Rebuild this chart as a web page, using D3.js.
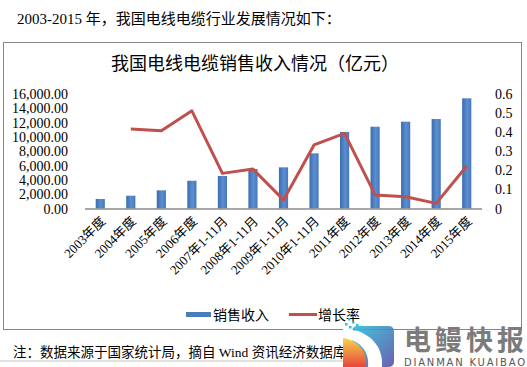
<!DOCTYPE html>
<html>
<head>
<meta charset="utf-8">
<script src="https://cdn.jsdelivr.net/npm/d3@7"></script>
<style>
  body { margin: 0; background: #fff; }
  svg text { font-family: "Liberation Serif", "Noto Sans CJK SC", serif; }
</style>
</head>
<body>
<svg id="chart" width="527" height="367"></svg>
<script>
// categories and values
const years = ['2003年度', '2004年度', '2005年度', '2006年度', '2007年1-11月', '2008年1-11月',
  '2009年1-11月', '2010年1-11月', '2011年度', '2012年度', '2013年度', '2014年度', '2015年度'];
const sales = [1330, 1790, 2540, 3880, 4540, 5520, 5750, 7710, 10690, 11430, 12130, 12500, 15400];
const growth = [null, 0.417, 0.408, 0.512, 0.184, 0.207, 0.045, 0.333, 0.394, 0.071, 0.062, 0.027, 0.223];
const leftTicks = [0, 2000, 4000, 6000, 8000, 10000, 12000, 14000, 16000];
const rightTicks = [0, 0.1, 0.2, 0.3, 0.4, 0.5, 0.6];

const svg = d3.select('#chart');

var plot = {left: 85, right: 482, top: 94, bottom: 208.5};

var x = d3.scaleBand()
  .domain(years)
  .range([plot.left, plot.right])
  .paddingInner(0.7)
  .paddingOuter(0.35);

var yL = d3.scaleLinear().domain([0, 16000]).range([plot.bottom, plot.top]);
var yR = d3.scaleLinear().domain([0, 0.6]).range([plot.bottom, plot.top]);

// bar gradient
var defs = svg.append('defs');
var grad = defs.append('linearGradient').attr('id', 'barGrad')
  .attr('x1', 0).attr('x2', 1).attr('y1', 0).attr('y2', 0);
grad.append('stop').attr('offset', '0%').attr('stop-color', '#3a6cb0');
grad.append('stop').attr('offset', '55%').attr('stop-color', '#5b8fd0');
grad.append('stop').attr('offset', '100%').attr('stop-color', '#4677bb');

var logoGrad = defs.append('linearGradient').attr('id', 'logoGrad')
  .attr('x1', 0).attr('x2', 1).attr('y1', 0).attr('y2', 1);
logoGrad.append('stop').attr('offset', '0%').attr('stop-color', '#2cc3d8');
logoGrad.append('stop').attr('offset', '100%').attr('stop-color', '#5a4fa8');
var swoosh = defs.append('linearGradient').attr('id', 'swoosh')
  .attr('x1', 0).attr('x2', 0).attr('y1', 0).attr('y2', 1);
swoosh.append('stop').attr('offset', '0%').attr('stop-color', '#f7d44a');
swoosh.append('stop').attr('offset', '100%').attr('stop-color', '#e8453c');

// heading line above the chart
svg.append('text')
  .attr('x', 17).attr('y', 24)
  .style('font-size', '15px')
  .text('2003-2015 年，我国电线电缆行业发展情况如下：');

// chart frame
svg.append('rect')
  .attr('x', 3.5).attr('y', 42.5)
  .attr('width', 518).attr('height', 287)
  .attr('fill', 'none')
  .attr('stroke', '#868686');

svg.append('text')
  .attr('x', 255).attr('y', 70)
  .attr('text-anchor', 'middle')
  .style('font-size', '18px')
  .text('我国电线电缆销售收入情况（亿元）');

// left axis labels
svg.append('g').selectAll('text')
  .data(leftTicks)
  .enter()
  .append('text')
  .attr('x', 68)
  .attr('y', function (d) { return yL(d) + 5; })
  .attr('text-anchor', 'end')
  .style('font-size', '14px')
  .text(function (d) { return d3.format(',.2f')(d); });

// right axis labels
svg.append('g').selectAll('text')
  .data(rightTicks)
  .enter()
  .append('text')
  .attr('x', 495)
  .attr('y', function (d) { return yR(d) + 5; })
  .style('font-size', '14px')
  .text(function (d) { return d === 0 ? '0' : d3.format('.1f')(d); });

// bars
svg.append('g').selectAll('rect')
  .data(sales)
  .enter()
  .append('rect')
  .attr('x', function (d, i) { return x(years[i]); })
  .attr('y', function (d) { return yL(d); })
  .attr('width', x.bandwidth())
  .attr('height', function (d) { return plot.bottom - yL(d); })
  .attr('fill', 'url(#barGrad)');

// baseline
svg.append('line')
  .attr('x1', plot.left).attr('x2', plot.right)
  .attr('y1', plot.bottom + 0.5).attr('y2', plot.bottom + 0.5)
  .attr('stroke', '#8a8a8a')
  .attr('stroke-width', 1.3);

// growth line
var line = d3.line()
  .defined(function (d) { return d != null; })
  .x(function (d, i) { return x(years[i]) + x.bandwidth() / 2; })
  .y(function (d) { return yR(d); });

svg.append('path')
  .datum(growth)
  .attr('d', line)
  .attr('fill', 'none')
  .attr('stroke', '#c0504d')
  .attr('stroke-width', 3)
  .attr('stroke-linejoin', 'round');

// x labels, rotated
svg.append('g').selectAll('text')
  .data(years)
  .enter()
  .append('text')
  .attr('transform', function (d) {
    return 'translate(' + (x(d) + x.bandwidth() / 2 + 6) + ',' + 222 + ') rotate(-45)';
  })
  .attr('text-anchor', 'end')
  .style('font-size', '13px')
  .text(function (d) { return d; });

// legend
var legend = svg.append('g');
legend.append('rect')
  .attr('x', 186).attr('y', 312)
  .attr('width', 25).attr('height', 5)
  .attr('fill', '#4a7ebb');
legend.append('text')
  .attr('x', 213).attr('y', 320)
  .style('font-size', '14px')
  .text('销售收入');
legend.append('line')
  .attr('x1', 289).attr('x2', 317)
  .attr('y1', 314.5).attr('y2', 314.5)
  .attr('stroke', '#c0504d')
  .attr('stroke-width', 3);
legend.append('text')
  .attr('x', 318).attr('y', 320)
  .style('font-size', '14px')
  .text('增长率');

// footnote
svg.append('rect')
  .attr('x', 0).attr('y', 360)
  .attr('width', 345).attr('height', 2)
  .attr('fill', '#e2e2e2');
svg.append('text')
  .attr('x', 13).attr('y', 357)
  .style('font-size', '13.5px')
  .text('注：数据来源于国家统计局，摘自 Wind 资讯经济数据库。');

// watermark logo
var logo = svg.append('g');
logo.append('rect')
  .attr('x', 352).attr('y', 326)
  .attr('width', 42).attr('height', 41)
  .attr('rx', 5)
  .attr('fill', 'url(#logoGrad)')
  .attr('opacity', 0.9);
logo.append('path')
  .attr('d', 'M343,328 C368,330 384,345 382,367 L368,367 C370,352 360,340 343,338 Z')
  .attr('fill', '#ffffff');
logo.append('path')
  .attr('d', 'M343,338 C358,340 368,352 366,367 L343,367 Z')
  .attr('fill', 'url(#swoosh)');
[[348, 318], [352, 321], [356, 324], [345, 323], [349, 326], [353, 328]].forEach(function (p) {
  logo.append('rect')
    .attr('x', p[0]).attr('y', p[1])
    .attr('width', 2.5).attr('height', 2.5)
    .attr('fill', '#3ab8d8');
});
logo.append('text')
  .attr('x', 404).attr('y', 350)
  .style('font-family', '"Noto Sans CJK SC", sans-serif')
  .style('font-size', '27px')
  .style('font-weight', 'bold')
  .attr('fill', '#7b7b7b')
  .attr('textLength', 120)
  .text('电鳗快报');
logo.append('text')
  .attr('x', 404).attr('y', 366)
  .style('font-family', '"DejaVu Sans", sans-serif')
  .style('font-size', '10px')
  .attr('fill', '#555')
  .attr('textLength', 121)
  .text('DIANMAN KUAIBAO');
</script>
</body>
</html>
